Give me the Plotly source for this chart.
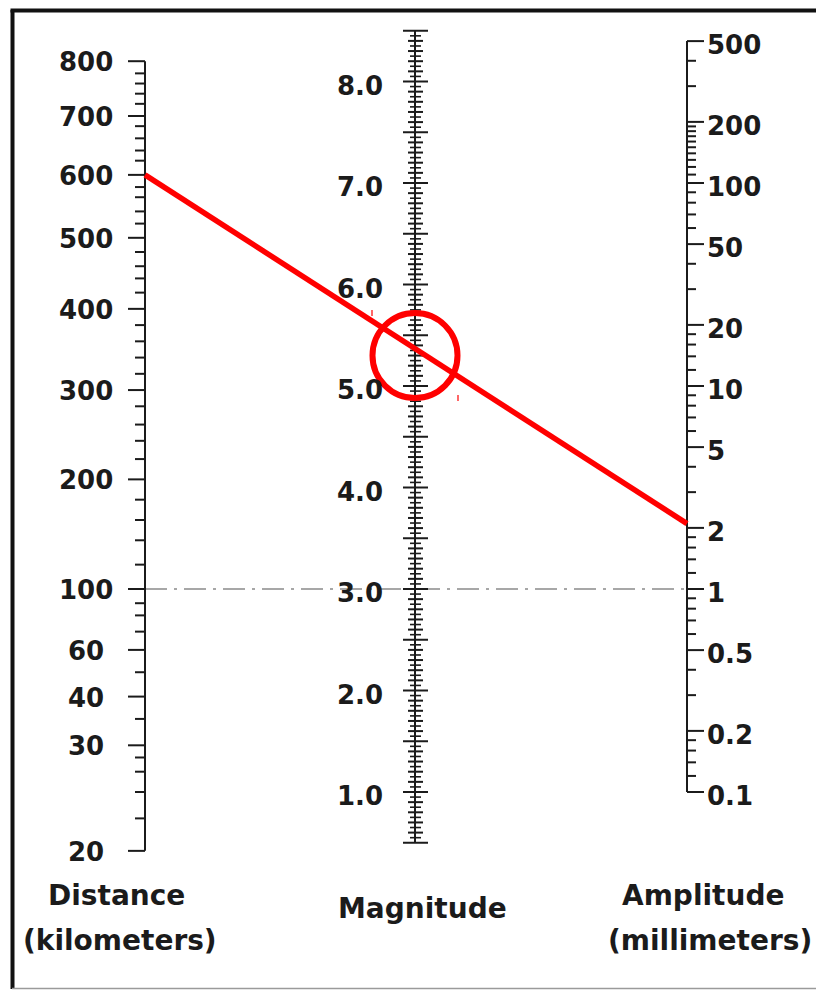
import numpy as np
import plotly.graph_objects as go

# ---------------------------------------------------------------
# Richter local-magnitude nomogram:  M = log10(A) + (-log A0(D))
# ---------------------------------------------------------------

# Distance scale (km) and its distance correction -log A0
distance_major_km = [800, 700, 600, 500, 400, 300, 200, 100, 60, 40, 30, 20]
distance_major_corr = [5.60, 5.33, 5.04, 4.73, 4.38, 3.98, 3.54, 3.00, 2.70, 2.47, 2.23, 1.71]
distance_minor_km = [780, 760, 740, 720, 680, 660, 640, 620, 580, 560, 540, 520,
                     480, 460, 440, 420, 380, 360, 340, 320, 280, 260, 240, 220,
                     180, 160, 140, 120, 90, 80, 70, 50, 35, 28, 26, 24, 22]
distance_minor_corr = [5.54, 5.49, 5.44, 5.39, 5.28, 5.22, 5.16, 5.11, 4.98, 4.93, 4.86, 4.80,
                       4.66, 4.59, 4.53, 4.46, 4.30, 4.22, 4.14, 4.06, 3.90, 3.81, 3.73, 3.64,
                       3.44, 3.34, 3.24, 3.12, 2.93, 2.87, 2.79, 2.59, 2.36, 2.17, 2.10, 2.00, 1.87]

# Amplitude scale (mm), logarithmic
amplitude_major = [500, 200, 100, 50, 20, 10, 5, 2, 1, 0.5, 0.2, 0.1]
amplitude_labels = ["500", "200", "100", "50", "20", "10", "5", "2", "1", "0.5", "0.2", "0.1"]
amplitude_minor = [400, 300,
                   190, 180, 170, 160, 150, 140, 130, 120, 110,
                   90, 80, 70, 60, 40, 30,
                   18, 16, 14, 12, 9, 8, 7, 6, 4, 3,
                   1.8, 1.6, 1.4, 1.2, 0.9, 0.8, 0.7, 0.6, 0.4, 0.3,
                   0.18, 0.16, 0.14, 0.12]

# Magnitude scale
magnitude_labels = [8.0, 7.0, 6.0, 5.0, 4.0, 3.0, 2.0, 1.0]
magnitude_min, magnitude_max = 0.5, 8.5
magnitude_step = 0.05

# Reference event: 100 km and 1 mm give magnitude 3.0
ref_magnitude = 3.0
ref_distance_corr = 3.00
ref_amplitude = 1.0

# Worked example drawn in red
example_distance_km = 600
example_distance_corr = 5.04
example_amplitude_mm = 2.1
example_magnitude = 5.3

# ---------------------------------------------------------------
# Layout geometry (pixels)
# ---------------------------------------------------------------
W, H = 816, 990
PX_PER_UNIT = 203.0        # pixels per unit of log10 amplitude
Y_REF_PX = 589.0           # pixel row of the reference (M = 3) line
X_DIST, X_MAG, X_AMP = 145.0, 415.0, 687.0

INK = "#1b1b1b"
FONT = "DejaVu Sans"


def u_dist(corr):
    return np.asarray(corr, dtype=float) - ref_distance_corr


def u_amp(a):
    return np.log10(np.asarray(a, dtype=float)) - np.log10(ref_amplitude)


def u_mag(m):
    return (np.asarray(m, dtype=float) - ref_magnitude) / 2.0


def segs(x0, x1, ys):
    xs, yy = [], []
    for y in np.atleast_1d(ys):
        xs += [x0, x1, None]
        yy += [float(y), float(y), None]
    return xs, yy


fig = go.Figure()


def add_lines(xs, ys, width=2, color=INK, dash=None):
    fig.add_trace(go.Scatter(x=xs, y=ys, mode="lines", hoverinfo="skip",
                             line=dict(color=color, width=width, dash=dash),
                             showlegend=False))


# Reference dash-dot line (M = 3 at 100 km, 1 mm)
y_ref = float(u_dist(ref_distance_corr))
add_lines([X_DIST, X_AMP], [y_ref, float(u_amp(ref_amplitude))], width=1.4,
          color="#8a8a8a", dash="22px,7px,3px,7px")

# --- Distance scale ------------------------------------------------
yd_major = u_dist(distance_major_corr)
yd_minor = u_dist(distance_minor_corr)
add_lines([X_DIST, X_DIST], [yd_major.max(), yd_major.min()])
xs, ys = segs(X_DIST - 17, X_DIST, yd_major)
add_lines(xs, ys)
xs, ys = segs(X_DIST - 10, X_DIST, yd_minor)
add_lines(xs, ys)

# --- Amplitude scale -----------------------------------------------
ya_major = u_amp(amplitude_major)
ya_minor = u_amp(amplitude_minor)
add_lines([X_AMP, X_AMP], [ya_major.max(), ya_major.min()])
xs, ys = segs(X_AMP, X_AMP + 17, ya_major)
add_lines(xs, ys)
xs, ys = segs(X_AMP, X_AMP + 9, ya_minor)
add_lines(xs, ys)

# --- Magnitude scale -----------------------------------------------
n_steps = int(round((magnitude_max - magnitude_min) / magnitude_step))
mag_ticks = [round(magnitude_min + i * magnitude_step, 2) for i in range(n_steps + 1)]
half_major = [m for m in mag_ticks if abs(m * 2 - round(m * 2)) < 1e-6]
tenth = [m for m in mag_ticks if abs(m * 10 - round(m * 10)) < 1e-6 and m not in half_major]
twentieth = [m for m in mag_ticks if m not in half_major and m not in tenth]
add_lines([X_MAG, X_MAG], [float(u_mag(magnitude_max)), float(u_mag(magnitude_min))])
xs, ys = segs(X_MAG - 12, X_MAG + 13, u_mag(half_major))
add_lines(xs, ys)
xs, ys = segs(X_MAG - 7, X_MAG + 8, u_mag(tenth))
add_lines(xs, ys)
xs, ys = segs(X_MAG - 5, X_MAG + 6, u_mag(twentieth))
add_lines(xs, ys, width=1.6)

# --- Worked example ------------------------------------------------
y_left = float(u_dist(example_distance_corr))
y_right = float(u_amp(example_amplitude_mm))
add_lines([X_DIST, X_AMP], [y_left, y_right], width=5.5, color="#ff0000")

r_px = 42.5
r_u = r_px / PX_PER_UNIT
yc = float(u_mag(example_magnitude))
fig.add_shape(type="circle", xref="x", yref="y",
              x0=X_MAG - r_px, x1=X_MAG + r_px, y0=yc - r_u, y1=yc + r_u,
              line=dict(color="#ff0000", width=6))
# small red corner marks of the circle's bounding box
mark = 6 / PX_PER_UNIT
add_lines([X_MAG - r_px - 0.5, X_MAG - r_px - 0.5, None, X_MAG + r_px + 0.5, X_MAG + r_px + 0.5],
          [yc + r_u + 0.015, yc + r_u + 0.015 - mark, None, yc - r_u - 0.015, yc - r_u - 0.015 + mark],
          width=1.2, color="#ff0000")

# --- Tick labels ---------------------------------------------------
tick_font = dict(family=FONT, size=26, color=INK, weight="bold")
title_font = dict(family=FONT, size=28, color=INK, weight="bold")

for km, y in zip(distance_major_km, yd_major):
    fig.add_annotation(x=86, y=float(y), text=str(km), showarrow=False,
                       xanchor="center", yanchor="middle", yshift=-1, font=tick_font)

for lab, y in zip(amplitude_labels, ya_major):
    fig.add_annotation(x=705, y=float(y), text=lab, showarrow=False,
                       xanchor="left", yanchor="middle", yshift=-4, font=tick_font)

for m in magnitude_labels:
    fig.add_annotation(x=360, y=float(u_mag(m)), text=f"{m:.1f}", showarrow=False,
                       xanchor="center", yanchor="middle", yshift=-4, font=tick_font)

# --- Scale titles --------------------------------------------------
titles = [("Distance", 117, 895), ("(kilometers)", 120, 940),
          ("Magnitude", 422, 908),
          ("Amplitude", 703, 895), ("(millimeters)", 710, 940)]
for text, xp, yp in titles:
    fig.add_annotation(xref="paper", yref="paper", x=xp / W, y=1 - yp / H, text=text,
                       showarrow=False, xanchor="center", yanchor="middle", font=title_font)

# --- Frame ---------------------------------------------------------
fig.add_shape(type="line", xref="paper", yref="paper", x0=12.5 / W, x1=12.5 / W,
              y0=1 - 10 / H, y1=1 - 989 / H, line=dict(color="#111", width=4))
fig.add_shape(type="line", xref="paper", yref="paper", x0=10.5 / W, x1=1.02,
              y0=1 - 10.5 / H, y1=1 - 10.5 / H, line=dict(color="#111", width=4))
fig.add_shape(type="line", xref="paper", yref="paper", x0=12 / W, x1=1.02,
              y0=1 - 988.5 / H, y1=1 - 988.5 / H, line=dict(color="#9a9a9a", width=1.5))

fig.update_layout(
    width=W, height=H,
    margin=dict(l=0, r=0, t=0, b=0),
    paper_bgcolor="white", plot_bgcolor="white",
    xaxis=dict(range=[0, W], visible=False, fixedrange=True),
    yaxis=dict(range=[(Y_REF_PX - H) / PX_PER_UNIT, Y_REF_PX / PX_PER_UNIT],
               visible=False, fixedrange=True),
    showlegend=False,
)

fig.write_html("out.html")
